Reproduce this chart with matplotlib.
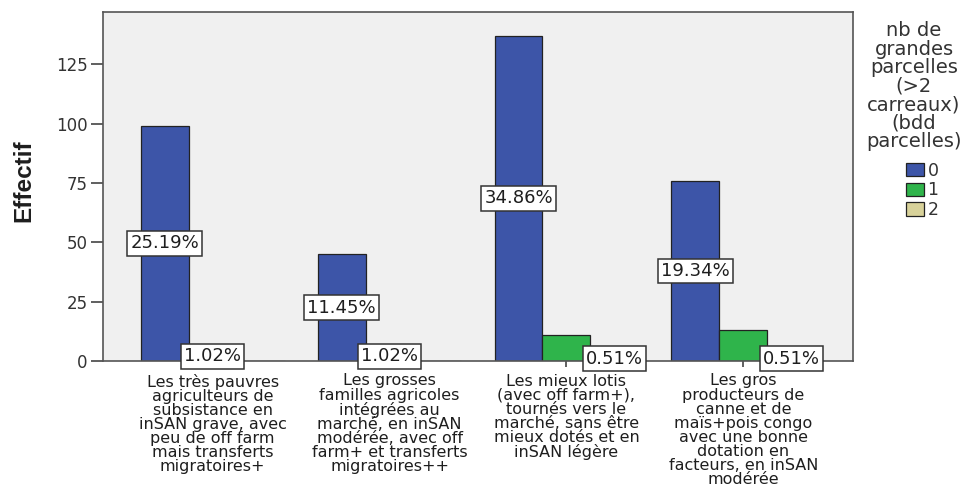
import numpy as np
import matplotlib
matplotlib.use("Agg")
import matplotlib.pyplot as plt

plt.rcParams['font.family'] = ['DejaVu Sans']

# categories (typologie)
categories = [
    "Les très pauvres\nagriculteurs de\nsubsistance en\ninSAN grave, avec\npeu de off farm\nmais transferts\nmigratoires+",
    "Les grosses\nfamilles agricoles\nintégrées au\nmarché, en inSAN\nmodérée, avec off\nfarm+ et transferts\nmigratoires++",
    "Les mieux lotis\n(avec off farm+),\ntournés vers le\nmarché, sans être\nmieux dotés et en\ninSAN légère",
    "Les gros\nproducteurs de\ncanne et de\nmaïs+pois congo\navec une bonne\ndotation en\nfacteurs, en inSAN\nmodérée",
]

# effectifs par nb de grandes parcelles
series_names = ['0', '1', '2']
vals_0 = [99, 45, 137, 76]
vals_1 = [4, 4, 11, 13]
vals_2 = [0, 0, 2, 2]

# étiquettes affichées (None = pas d'étiquette)
lab_0 = ['25.19%', '11.45%', '34.86%', '19.34%']
lab_1 = ['1.02%', '1.02%', None, None]
lab_2 = [None, None, '0.51%', '0.51%']

colors = ['#3d55a8', '#2fb44b', '#d8d29a']
txt = '#1e1e1e'

fig = plt.figure(figsize=(9.7, 4.95), dpi=100)
ax = fig.add_axes([103/970, 1 - 361/495, 750/970, 349/495])
ax.set_facecolor('#f0f0f0')

x = np.arange(len(categories))
w = 0.271
all_vals = [vals_0, vals_1, vals_2]
all_labs = [lab_0, lab_1, lab_2]
for i, (v, lab, c) in enumerate(zip(all_vals, all_labs, colors)):
    pos = x + (i - 1) * w
    ax.bar(pos, v, width=w, color=c, edgecolor='#222222', linewidth=0.9,
           label=series_names[i], zorder=2)
    for px, pv, pl in zip(pos, v, lab):
        if pl is not None:
            ax.text(px, pv / 2, pl, ha='center', va='center', fontsize=13,
                    color=txt, zorder=4,
                    bbox=dict(boxstyle='square,pad=0.18', fc='white', ec='#333333', lw=1.1))

ax.set_xlim(-0.62, 3.62)
ax.set_ylim(0, 147)
ax.set_yticks([0, 25, 50, 75, 100, 125])
ax.set_xticks(x)
ax.set_xticklabels(categories, fontsize=11.5, color=txt, linespacing=0.92)
ax.tick_params(axis='y', labelsize=12, labelcolor='#333333', length=9, width=1.2,
               color='#444444', pad=2)
ax.tick_params(axis='x', length=4, width=1.2, color='#444444', pad=5)
for s in ax.spines.values():
    s.set_color('#555555')
    s.set_linewidth(1.2)

fig.text(24/970, 1 - 181/495, 'Effectif', rotation=90, ha='center', va='center',
         fontsize=17.5, fontweight='bold', color=txt, family='Liberation Sans')

# légende
fig.text(914/970, 1 - 21/495,
         "nb de\ngrandes\nparcelles\n(>2\ncarreaux)\n(bdd\nparcelles)",
         ha='center', va='top', fontsize=14, color='#333333', linespacing=0.97)
handles, labels = ax.get_legend_handles_labels()
fig.legend(handles, labels, loc='upper left', bbox_to_anchor=(897/970, 1 - 153/495),
           frameon=False, fontsize=12.5, handlelength=1.05, handleheight=0.8,
           handletextpad=0.2, labelspacing=0.1, borderpad=0, labelcolor='#333333')

fig.savefig('out.png', dpi=100, facecolor='white')
